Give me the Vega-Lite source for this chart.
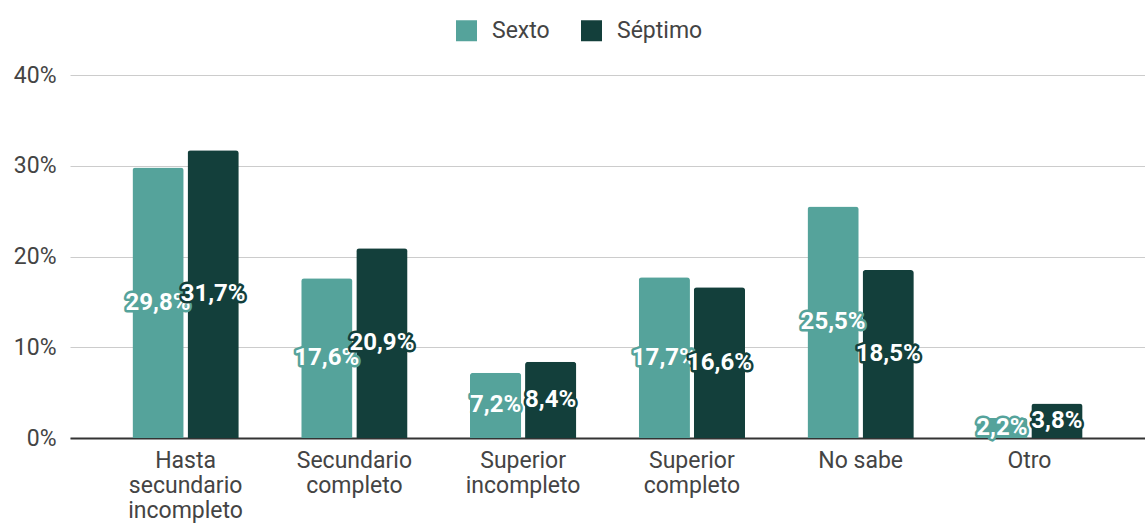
{
  "$schema": "https://vega.github.io/schema/vega-lite/v6.json",
  "width": 1075,
  "height": 363,
  "autosize": "none",
  "padding": {"left": 70, "top": 75, "right": 0, "bottom": 85},
  "background": "white",
  "config": {"font": "Roboto", "view": {"stroke": null}},
  "data": {
    "values": [
      {"cat": "Hasta secundario incompleto", "series": "Sexto", "v": 29.8},
      {"cat": "Hasta secundario incompleto", "series": "Séptimo", "v": 31.7},
      {"cat": "Secundario completo", "series": "Sexto", "v": 17.6},
      {"cat": "Secundario completo", "series": "Séptimo", "v": 20.9},
      {"cat": "Superior incompleto", "series": "Sexto", "v": 7.2},
      {"cat": "Superior incompleto", "series": "Séptimo", "v": 8.4},
      {"cat": "Superior completo", "series": "Sexto", "v": 17.7},
      {"cat": "Superior completo", "series": "Séptimo", "v": 16.6},
      {"cat": "No sabe", "series": "Sexto", "v": 25.5},
      {"cat": "No sabe", "series": "Séptimo", "v": 18.5},
      {"cat": "Otro", "series": "Sexto", "v": 2.2},
      {"cat": "Otro", "series": "Séptimo", "v": 3.8}
    ]
  },
  "transform": [
    {"calculate": "datum.v / 2", "as": "mid"},
    {"calculate": "replace(format(datum.v, '.1f'), '.', ',') + '%'", "as": "lbl"}
  ],
  "encoding": {
    "x": {
      "field": "cat",
      "type": "nominal",
      "sort": null,
      "scale": {"paddingInner": 0.37, "paddingOuter": 0.37},
      "axis": {
        "title": null,
        "labelAngle": 0,
        "labelFontSize": 23,
        "labelColor": "#444444",
        "labelPadding": 11,
        "labelLineHeight": 25,
        "labelExpr": "datum.value == 'No sabe' ? datum.value : split(datum.value, ' ')",
        "ticks": false,
        "domainColor": "#333333",
        "domainWidth": 2,
        "grid": false
      }
    },
    "xOffset": {"field": "series", "type": "nominal", "sort": ["Sexto", "Séptimo"], "scale": {"paddingInner": 0.07}}
  },
  "layer": [
    {
      "mark": {"type": "bar", "cornerRadiusEnd": 3},
      "encoding": {
        "y": {
          "field": "v",
          "type": "quantitative",
          "scale": {"domain": [0, 40]},
          "axis": {
            "title": null,
            "values": [0, 10, 20, 30, 40],
            "labelExpr": "datum.value + '%'",
            "labelFontSize": 23,
            "labelColor": "#444444",
            "labelPadding": 14,
            "ticks": false,
            "domain": false,
            "gridColor": "#cccccc",
            "gridWidth": 1
          }
        },
        "color": {
          "field": "series",
          "type": "nominal",
          "sort": ["Sexto", "Séptimo"],
          "scale": {"domain": ["Sexto", "Séptimo"], "range": ["#55a39b", "#133f3b"]},
          "legend": {
            "title": null,
            "orient": "none",
            "direction": "horizontal",
            "legendX": 385,
            "legendY": -56,
            "symbolType": "square",
            "symbolSize": 441,
            "symbolStrokeWidth": 0,
            "labelFontSize": 23,
            "labelColor": "#444444",
            "labelOffset": 14,
            "columnPadding": 30
          }
        }
      }
    },
    {
      "transform": [{"filter": "datum.series == 'Sexto'"}],
      "mark": {"type": "text", "fontSize": 24, "fontWeight": "bold", "stroke": "#55a39b", "strokeWidth": 5, "strokeJoin": "round", "fill": "#55a39b", "baseline": "middle", "align": "center"},
      "encoding": {"y": {"field": "mid", "type": "quantitative"}, "text": {"field": "lbl"}}
    },
    {
      "transform": [{"filter": "datum.series == 'Sexto'"}],
      "mark": {"type": "text", "fontSize": 24, "fontWeight": "bold", "fill": "white", "baseline": "middle", "align": "center"},
      "encoding": {"y": {"field": "mid", "type": "quantitative"}, "text": {"field": "lbl"}}
    },
    {
      "transform": [{"filter": "datum.series == 'Séptimo'"}],
      "mark": {"type": "text", "fontSize": 24, "fontWeight": "bold", "stroke": "#133f3b", "strokeWidth": 5, "strokeJoin": "round", "fill": "#133f3b", "baseline": "middle", "align": "center"},
      "encoding": {"y": {"field": "mid", "type": "quantitative"}, "text": {"field": "lbl"}}
    },
    {
      "transform": [{"filter": "datum.series == 'Séptimo'"}],
      "mark": {"type": "text", "fontSize": 24, "fontWeight": "bold", "fill": "white", "baseline": "middle", "align": "center"},
      "encoding": {"y": {"field": "mid", "type": "quantitative"}, "text": {"field": "lbl"}}
    }
  ]
}
